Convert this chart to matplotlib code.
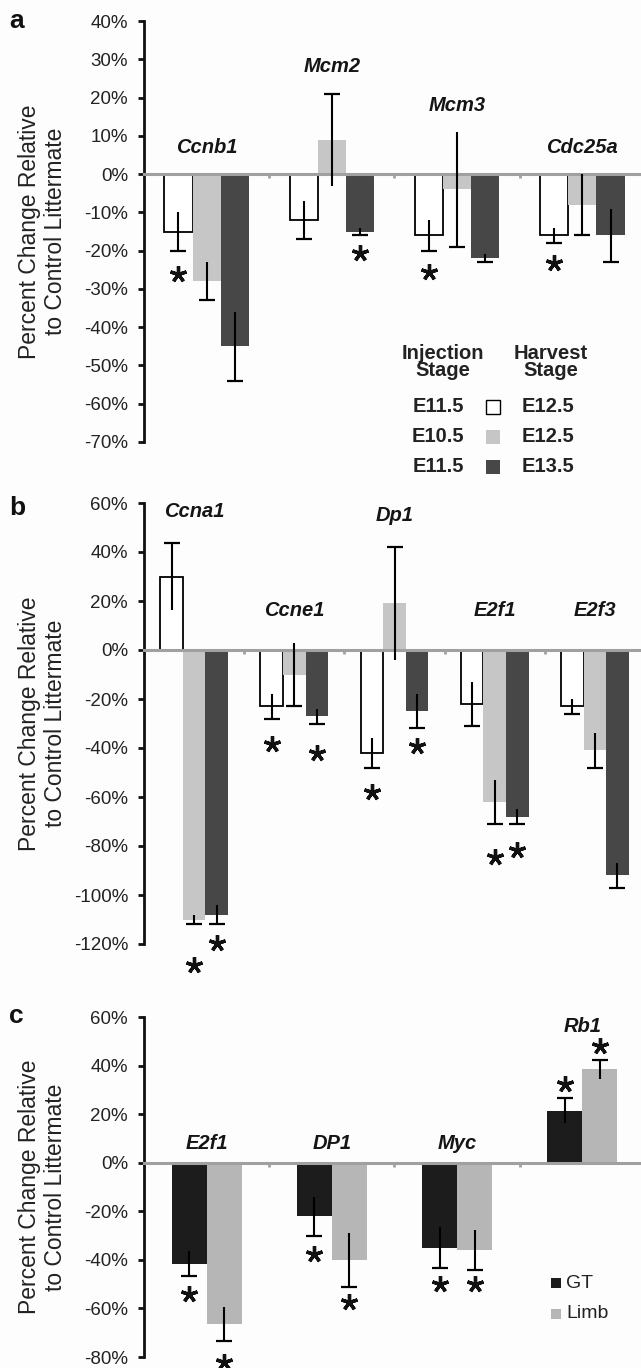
import matplotlib
matplotlib.use("Agg")
import matplotlib.pyplot as plt
from matplotlib.patches import Rectangle
from matplotlib.ticker import FuncFormatter
import numpy as np

plt.rcParams['font.family'] = ['Liberation Sans', 'DejaVu Sans']
plt.rcParams['axes.unicode_minus'] = False

W, H = 641, 1368

# ---- panel a : injection / harvest stages ----
a_genes = ['Ccnb1', 'Mcm2', 'Mcm3', 'Cdc25a']
a_white = [-15, -12, -16, -16]
a_white_err = [5, 5, 4, 2]
a_white_star = [-26, None, -25.6, -23.3]
a_gray = [-28, 9, -4, -8]
a_gray_err = [5, 12, 15, 8]
a_gray_star = [None, None, None, None]
a_dark = [-45, -15, -22, -16]
a_dark_err = [9, 1, 1, 7]
a_dark_star = [None, -20.5, None, None]
a_legend_inj = ['E11.5', 'E10.5', 'E11.5']
a_legend_harv = ['E12.5', 'E12.5', 'E13.5']

# ---- panel b ----
b_genes = ['Ccna1', 'Ccne1', 'Dp1', 'E2f1', 'E2f3']
b_white = [30, -23, -42, -22, -23]
b_white_err = [13.7, 5, 6, 9, 3]
b_white_star = [None, -38.4, -57.9, None, None]
b_gray = [-110, -10, 19, -62, -41]
b_gray_err = [2, 13, 23, 9, 7]
b_gray_star = [-128.6, None, None, -84.5, None]
b_dark = [-108, -27, -25, -68, -92]
b_dark_err = [4, 3, 7, 3, 5]
b_dark_star = [-119.6, -42.2, -39.2, -81.7, None]

# ---- panel c : GT vs limb ----
c_genes = ['E2f1', 'DP1', 'Myc', 'Rb1']
c_gt = [-41.5, -22, -35, 21.5]
c_gt_err = [5, 8, 8.5, 5]
c_gt_star = [-54, -37.5, -50, 32.4]
c_limb = [-66.5, -40, -36, 38.5]
c_limb_err = [7, 11, 8.2, 4]
c_limb_star = [-82, -57.5, -50, 48]
c_legend = ['GT', 'Limb']

WHITE, GRAY, DARK = 'white', '#c6c6c6', '#474747'
GT_COL, LIMB_COL = '#1c1c1c', '#b6b6b6'
AXIS_GRAY = '#a0a0a0'


def fx(px):
    return px / W


def fy(py):
    return 1 - py / H


def draw_panel(ax, genes, series, width, offsets, ylim, yticks, floor, pad):
    n = len(genes)
    x = np.arange(n)
    tops = np.full(n, float(floor))
    for (vals, errs, stars, color, edge), off in zip(series, offsets):
        vals = np.array(vals, dtype=float)
        errs = np.array(errs, dtype=float)
        xs = x + off
        ax.bar(xs, vals, width, color=color, edgecolor=edge,
               linewidth=1.3 if edge != 'none' else 0, zorder=1)
        ax.vlines(xs, vals - errs, vals + errs, color='black', lw=1.5, zorder=3)
        ends = vals + np.sign(vals) * errs
        ax.plot(xs, ends, ls='none', marker='_', ms=11.5, mew=1.6,
                color='black', zorder=3)
        tops = np.maximum(tops, vals + errs)
        for i, s in enumerate(stars):
            if s is not None:
                ax.plot(xs[i], s, marker=(5, 2, 0), ms=12, mew=2.4,
                        color='#111111', clip_on=False, zorder=4)
                tops[i] = max(tops[i], s)
    for i, g in enumerate(genes):
        ax.text(i, tops[i] + pad, g, ha='center', va='center', fontsize=14.5,
                fontweight='bold', fontstyle='italic', color='#151515')

    ax.set_xlim(-0.5, n - 0.5)
    ax.set_ylim(*ylim)
    ax.set_yticks(yticks)
    ax.yaxis.set_major_formatter(FuncFormatter(lambda v, p: f'{v:.0f}%'))
    ax.tick_params(axis='y', direction='out', length=4.5, width=2,
                   pad=7, labelsize=13.5, labelcolor='#222222', color='#111111')
    ax.set_xticks(np.arange(n + 1) - 0.5)
    ax.tick_params(axis='x', direction='out', length=3, width=2,
                   color=AXIS_GRAY, labelbottom=False)
    for s in ['top', 'right']:
        ax.spines[s].set_visible(False)
    ax.spines['left'].set_linewidth(2)
    ax.spines['left'].set_color('#111111')
    ax.spines['bottom'].set_position(('data', 0))
    ax.spines['bottom'].set_color(AXIS_GRAY)
    ax.spines['bottom'].set_linewidth(2.2)
    ax.set_facecolor('none')
    ax.set_ylabel('Percent Change Relative\nto Control Littermate',
                  fontsize=16.5, linespacing=1.15, color='#222222')
    ax.yaxis.set_label_coords(-0.154, 0.5)


fig = plt.figure(figsize=(W / 100, H / 100), dpi=100)
fig.patch.set_facecolor('#fdfdfd')

left, width = fx(144), 501 / W

ax_a = fig.add_axes([left, fy(442), width, (442 - 21) / H])
draw_panel(ax_a, a_genes,
           [(a_white, a_white_err, a_white_star, WHITE, 'black'),
            (a_gray, a_gray_err, a_gray_star, GRAY, 'none'),
            (a_dark, a_dark_err, a_dark_star, DARK, 'none')],
           0.225, [-0.225, 0, 0.225], (-70, 40), range(-70, 41, 10), 0, 7)

ax_b = fig.add_axes([left, fy(944), width, (944 - 503) / H])
draw_panel(ax_b, b_genes,
           [(b_white, b_white_err, b_white_star, WHITE, 'black'),
            (b_gray, b_gray_err, b_gray_star, GRAY, 'none'),
            (b_dark, b_dark_err, b_dark_star, DARK, 'none')],
           0.225, [-0.225, 0, 0.225], (-120, 60), range(-120, 61, 20), 3, 13)

ax_c = fig.add_axes([left, fy(1357), width, (1357 - 1017) / H])
draw_panel(ax_c, c_genes,
           [(c_gt, c_gt_err, c_gt_star, GT_COL, 'none'),
            (c_limb, c_limb_err, c_limb_star, LIMB_COL, 'none')],
           0.28, [-0.14, 0.14], (-80, 60), range(-80, 61, 20), 0, 8)

# panel letters
for letter, base in zip(['a', 'b', 'c'], [28, 515, 1023]):
    fig.text(fx(9), fy(base), letter, fontsize=19, fontweight='bold',
             va='baseline', ha='left', color='#111111')

# legend of panel a
fig.text(fx(443), fy(362), 'Injection\nStage', ha='center', va='center',
         fontsize=14.5, fontweight='bold', linespacing=0.92, color='#222222')
fig.text(fx(551), fy(362), 'Harvest\nStage', ha='center', va='center',
         fontsize=14.5, fontweight='bold', linespacing=0.92, color='#222222')
for k, (inj, harv, col) in enumerate(zip(a_legend_inj, a_legend_harv,
                                          [WHITE, GRAY, DARK])):
    yy = 407 + 30 * k
    fig.text(fx(438), fy(yy), inj, ha='center', va='center', fontsize=14.5,
             fontweight='bold', color='#222222')
    fig.text(fx(548), fy(yy), harv, ha='center', va='center', fontsize=14.5,
             fontweight='bold', color='#222222')
    fig.add_artist(Rectangle((fx(486), fy(yy + 7)), 14 / W, 14 / H,
                             transform=fig.transFigure, facecolor=col,
                             edgecolor='black' if col == WHITE else 'none',
                             linewidth=1))

# legend of panel c
for k, (lab, col) in enumerate(zip(c_legend, [GT_COL, LIMB_COL])):
    yy = 1283 + 31 * k
    fig.add_artist(Rectangle((fx(551), fy(yy + 5)), 10 / W, 10 / H,
                             transform=fig.transFigure, facecolor=col,
                             edgecolor='none'))
    fig.text(fx(566), fy(yy), lab, ha='left', va='center', fontsize=14,
             color='#222222')

fig.savefig('out.png', dpi=100, facecolor=fig.get_facecolor())
